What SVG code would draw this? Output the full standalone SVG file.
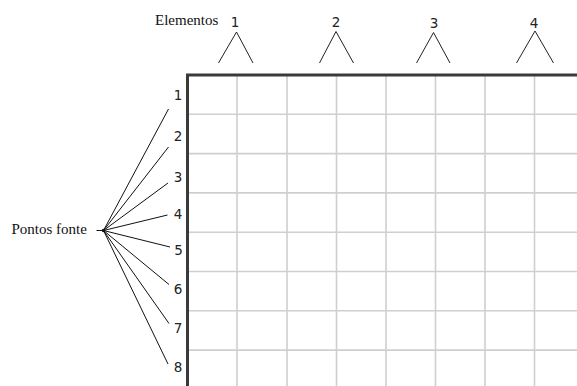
<svg xmlns="http://www.w3.org/2000/svg" width="577" height="386" viewBox="0 0 577 386">
<style>
.serif{font-family:"Liberation Serif","Times New Roman",serif;font-size:15px;fill:#111}
.num{font-family:"DejaVu Sans","Liberation Sans",sans-serif;font-size:13.5px;fill:#222;text-anchor:middle}
.grid{stroke:#cfcfcf;stroke-width:1.6;fill:none}
.border{stroke:#3a3a3a;stroke-width:3;fill:none}
.tree{stroke:#222;stroke-width:1;fill:none}
.fan{stroke:#111;stroke-width:1;fill:none}
</style>
<rect width="577" height="386" fill="#fff"/>
<g id="grid">
<path class="grid" d="M237 76V386M287 76V386M336.5 76V386M386 76V386M435.5 76V386M485 76V386M534.5 76V386"/>
<path class="grid" d="M189 114.3H577M189 153.6H577M189 192.9H577M189 232.2H577M189 271.5H577M189 310.8H577M189 350.1H577"/>
<path class="border" d="M187.5 386V75H577"/>
</g>
<text class="serif" x="155" y="25">Elementos</text>
<g id="element-1"><text class="num" x="235" y="27">1</text><path class="tree" d="M218.5 63L236.5 32L253 63"/></g>
<g id="element-2"><text class="num" x="336" y="27">2</text><path class="tree" d="M319.5 63L336 31.5L353.5 63"/></g>
<g id="element-3"><text class="num" x="434" y="28">3</text><path class="tree" d="M416.5 63L433.5 32.5L450 63"/></g>
<g id="element-4"><text class="num" x="534" y="27.5">4</text><path class="tree" d="M516.5 63L535 31L553.5 63"/></g>
<g id="source">
<text class="serif" x="11.5" y="234">Pontos fonte</text>
<path class="fan" d="M96.5 230.5H103.5"/>
<circle cx="103.5" cy="230.5" r="1.8" fill="#111"/>
</g>
<g id="connectors">
<path class="fan" d="M103.5 230.5L168.5 109M103.5 230.5L168.5 147M103.5 230.5L168 183M103.5 230.5L167.5 215M103.5 230.5L170 247M103.5 230.5L169 284.5M103.5 230.5L169 323.5M103.5 230.5L168 364"/>
</g>
<g id="point-1"><text class="num" x="178" y="100">1</text></g>
<g id="point-2"><text class="num" x="178" y="141">2</text></g>
<g id="point-3"><text class="num" x="178" y="181.5">3</text></g>
<g id="point-4"><text class="num" x="178" y="219">4</text></g>
<g id="point-5"><text class="num" x="178.5" y="254.5">5</text></g>
<g id="point-6"><text class="num" x="178" y="294">6</text></g>
<g id="point-7"><text class="num" x="178" y="333">7</text></g>
<g id="point-8"><text class="num" x="178" y="372">8</text></g>
</svg>
